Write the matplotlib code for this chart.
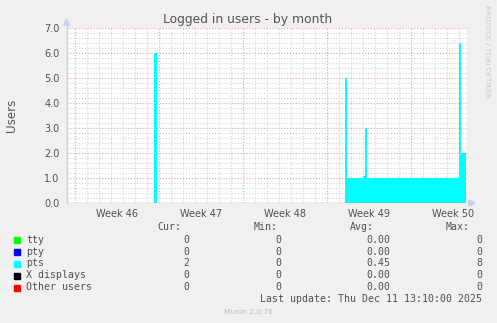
import matplotlib
matplotlib.use("Agg")
import matplotlib.pyplot as plt
from matplotlib.lines import Line2D
from matplotlib.patches import Rectangle, Polygon
import numpy as np

W, H = 497, 323

# ---------------- data ----------------
title = "Logged in users - by month"
y_label = "Users"
week_labels = ["Week 46", "Week 47", "Week 48", "Week 49", "Week 50"]
week_starts = [0, 7, 14, 21, 28]          # days (week boundaries)
y_ticks = [0, 1, 2, 3, 4, 5, 6, 7]
y_tick_labels = ["0.0", "1.0", "2.0", "3.0", "4.0", "5.0", "6.0", "7.0"]

# pts series as step changes (days, users)
pts_days = [-0.75, 6.54, 6.79, 22.46, 22.65, 23.98, 24.10, 24.27, 31.87, 31.98, 32.15, 32.52]
pts_vals = [0.0, 6.0, 0.0, 5.0, 1.0, 1.1, 3.0, 1.0, 1.05, 6.4, 2.0, 2.0]

series_names = ["tty", "pty", "pts", "X displays", "Other users"]
series_colors = ["#00FF00", "#0000FF", "#00FFFF", "#000000", "#FF0000"]
cur_vals = ["0", "0", "2", "0", "0"]
min_vals = ["0", "0", "0", "0", "0"]
avg_vals = ["0.00", "0.00", "0.45", "0.00", "0.00"]
max_vals = ["0", "0", "8", "0", "0"]
last_update = "Last update: Thu Dec 11 13:10:00 2025"
footer = "Munin 2.0.76"
watermark = "RRDTOOL / TOBI OETIKER"

# ---------------- layout ----------------
fig = plt.figure(figsize=(W / 100, H / 100), dpi=100, facecolor="#F0F0F0")

def fx(x):
    return x / W

def fy(y):
    return 1 - y / H

left_px, right_px, top_px, bot_px = 66.5, 467.5, 28, 203
ax = fig.add_axes([fx(left_px), fy(bot_px), (right_px - left_px) / W, (bot_px - top_px) / H])
ax.set_facecolor("white")
x0, x1 = -0.75, 32.67
ax.set_xlim(x0, x1)
ax.set_ylim(0, 7)
for s in ax.spines.values():
    s.set_visible(False)

minor_col = "#D4D4D4"
major_col = "#E6A0A0"
dash = (0, (1, 1.6))
# minor grid
for d in range(0, 33):
    if d not in week_starts:
        ax.axvline(d, color=minor_col, lw=0.8, ls=dash, zorder=1)
for yv in np.arange(0.2, 7.0, 0.2):
    if abs(yv - round(yv)) > 1e-6:
        ax.axhline(yv, color=minor_col, lw=0.8, ls=dash, zorder=1)
# major grid
for d in week_starts:
    ax.axvline(d, color=major_col, lw=0.8, ls=dash, zorder=1)
for yv in y_ticks[1:]:
    ax.axhline(yv, color=major_col, lw=0.8, ls=dash, zorder=1)

# data
ax.fill_between(pts_days, pts_vals, 0, step="post", color=series_colors[2], lw=0, zorder=3)

# zero line & axes
ax.axhline(0, color="#E07878", lw=1.0, zorder=4)
axis_col = "#C8CFF5"
ax.add_line(Line2D([x0, x0], [0, 7.2], color=axis_col, lw=1.0, clip_on=False, zorder=4))
ax.add_line(Line2D([x1, x1 + 0.15], [0, 0], color=axis_col, lw=1.0, clip_on=False, zorder=4))
# arrows (in pixels)
fig.patches.append(Polygon([[fx(63.5), fy(25)], [fx(69.5), fy(25)], [fx(66.5), fy(19)]],
                           closed=True, transform=fig.transFigure, color=axis_col, zorder=5))
fig.patches.append(Polygon([[fx(469), fy(200)], [fx(469), fy(206)], [fx(475), fy(203)]],
                           closed=True, transform=fig.transFigure, color=axis_col, zorder=5))

# ticks
ax.set_xticks([d + 3.5 for d in week_starts])
ax.set_xticklabels(week_labels)
ax.set_yticks(y_ticks)
ax.set_yticklabels(y_tick_labels)
ax.tick_params(axis="both", length=0, labelsize=7, colors="#505050")
ax.tick_params(axis="x", pad=4)
ax.tick_params(axis="y", pad=5)

# texts
fig.text(fx(248), fy(19), title, ha="center", va="center", fontsize=8.9, color="#555555")
fig.text(fx(11), fy(115), y_label, ha="center", va="center", rotation=90, fontsize=8.6, color="#555555")
fig.text(fx(487), fy(5), watermark, ha="center", va="top", rotation=270, fontsize=5.2, color="#C8C8C8")

mono = "DejaVu Sans Mono"
fs = 7.1
tc = "#505050"
hy = 227.5
fig.text(fx(181.7), fy(hy), "Cur:", ha="right", va="center", family=mono, fontsize=fs, color=tc)
fig.text(fx(277.7), fy(hy), "Min:", ha="right", va="center", family=mono, fontsize=fs, color=tc)
fig.text(fx(374), fy(hy), "Avg:", ha="right", va="center", family=mono, fontsize=fs, color=tc)
fig.text(fx(470), fy(hy), "Max:", ha="right", va="center", family=mono, fontsize=fs, color=tc)
row_y = [240, 252, 263.5, 275.5, 287.5]
for i, name in enumerate(series_names):
    y = row_y[i]
    fig.patches.append(Rectangle((fx(14), fy(y + 3)), 6 / W, 6 / H, transform=fig.transFigure,
                                 color=series_colors[i], zorder=5))
    fig.text(fx(26.3), fy(y), name, ha="left", va="center", family=mono, fontsize=fs, color=tc)
    fig.text(fx(189), fy(y), cur_vals[i], ha="right", va="center", family=mono, fontsize=fs, color=tc)
    fig.text(fx(281), fy(y), min_vals[i], ha="right", va="center", family=mono, fontsize=fs, color=tc)
    fig.text(fx(390.7), fy(y), avg_vals[i], ha="right", va="center", family=mono, fontsize=fs, color=tc)
    fig.text(fx(482.3), fy(y), max_vals[i], ha="right", va="center", family=mono, fontsize=fs, color=tc)
fig.text(fx(482.3), fy(299.5), last_update, ha="right", va="center", family=mono, fontsize=fs, color=tc)
fig.text(fx(248), fy(312), footer, ha="center", va="center", fontsize=5.4, color="#BBBBBB")

fig.savefig("out.png", dpi=100, facecolor=fig.get_facecolor())
